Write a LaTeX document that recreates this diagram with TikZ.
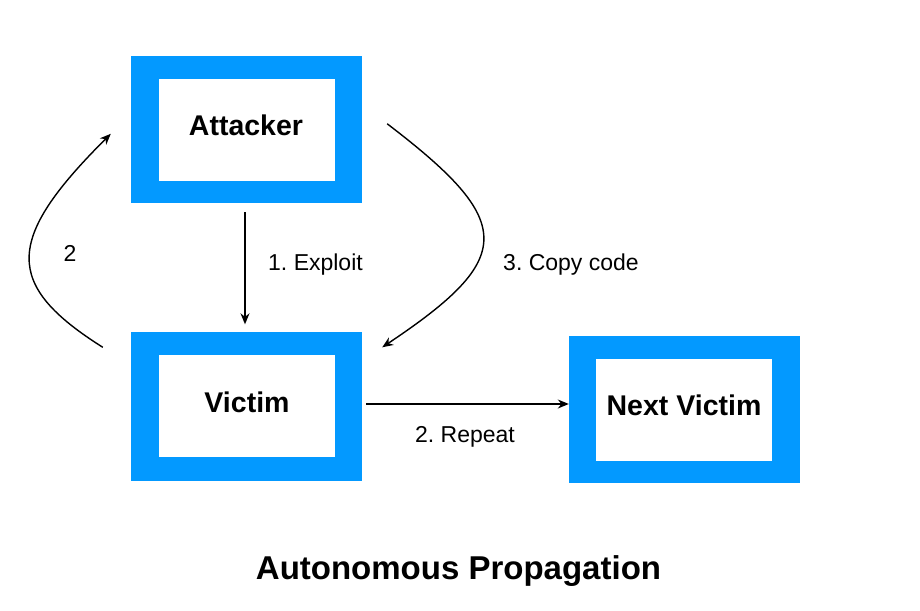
\documentclass[tikz,border=0pt]{standalone}
\usepackage{fontspec}
\setmainfont{Liberation Sans}
\usetikzlibrary{arrows.meta,calc}
\definecolor{boxblue}{RGB}{3,153,255}
\frenchspacing
\begin{document}
\begin{tikzpicture}[x=1pt,y=-1pt,
  outerbox/.style={fill=boxblue,draw=none,minimum width=231pt,minimum height=147pt,inner sep=0pt},
  innerbox/.style={fill=white,draw=none,minimum width=176pt,minimum height=102pt,inner sep=0pt},
  boxtext/.style={anchor=base,inner sep=0pt,font=\fontsize{28.5}{30}\selectfont\bfseries},
  lbl/.style={anchor=base,inner sep=0pt,font=\fontsize{23}{25}\selectfont},
  arr/.style={line width=1.4pt,-{Stealth[length=11pt,width=9pt]}}]
\path[use as bounding box,fill=white] (0,0) rectangle (920,610);

% boxes
\node[outerbox] (att) at (246.5,129.5) {};
\node[innerbox] (attI) at (247,130) {};
\node[boxtext] (attT) at (246,135) {Attacker};

\node[outerbox,minimum height=149pt] (vic) at (246.5,406) {};
\node[innerbox] (vicI) at (247,406) {};
\node[boxtext] (vicT) at (247,412) {Victim};

\node[outerbox] (nxt) at (684.5,409.5) {};
\node[innerbox] (nxtI) at (684,410) {};
\node[boxtext] (nxtT) at (684,415) {Next Victim};

% connectors
\draw[arr] ([shift={(-1.5,9)}]att.south) -- ([shift={(-1.5,-7)}]vic.north);
\draw[arr] ([shift={(4,-2)}]vic.east) -- ($(nxt.west)+(0,-5.5)$);
\draw[arr] ([shift={(-28,16)}]vic.north west) .. controls (4,285) and (4,240) .. ([shift={(-20,78)}]att.north west);
\draw[arr] ([shift={(25,68)}]att.north east) .. controls (516,222) and (516,258) .. ([shift={(20,16)}]vic.north east);

% labels
\node[lbl] (l2) at (70,261) {2};
\node[lbl] (l1) at (315.5,270) {1. Exploit};
\node[lbl] (l3) at (571,270) {3. Copy code};
\node[lbl] (l4) at (465,442) {2. Repeat};
\node[anchor=base,inner sep=0pt,font=\fontsize{33}{35}\selectfont\bfseries] (title) at (458.5,579) {Autonomous Propagation};
\end{tikzpicture}
\end{document}
